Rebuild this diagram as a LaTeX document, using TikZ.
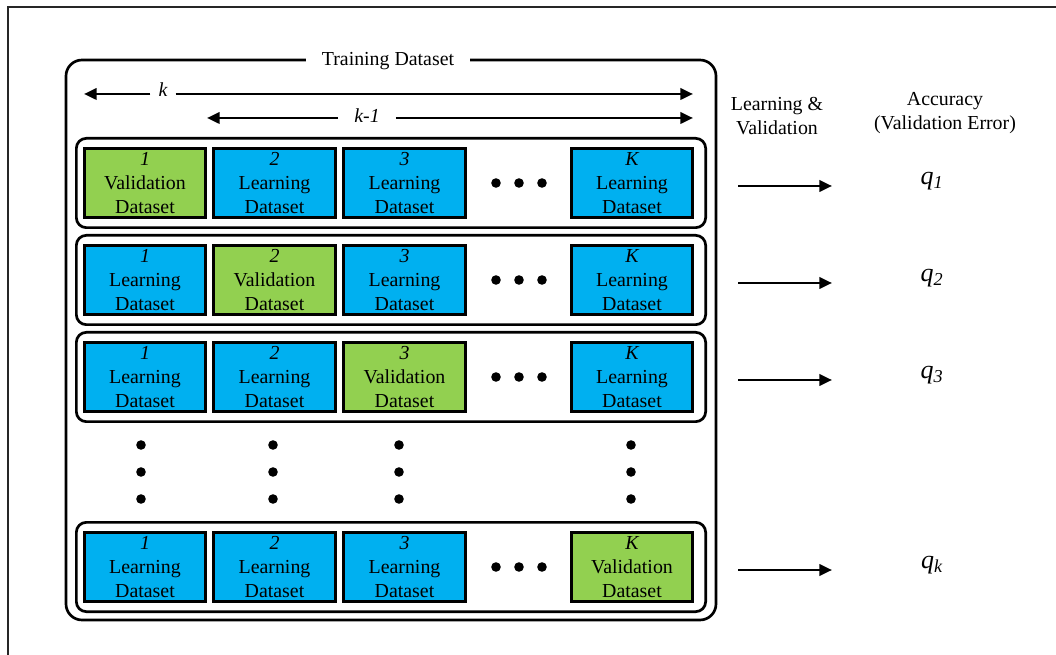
\documentclass[tikz,border=0pt]{standalone}
\usepackage{fontspec}
\setmainfont{Liberation Serif}
\usetikzlibrary{arrows.meta}
\definecolor{learnblue}{HTML}{00B0F0}
\definecolor{validgreen}{HTML}{92D050}
\begin{document}
\begin{tikzpicture}[x=0.75pt,y=-0.75pt,
  font=\fontsize{14.9}{17.8}\selectfont,
  fold/.style={draw=black, line width=2.3pt, minimum width=91pt, minimum height=52pt,
    inner sep=0pt, align=center},
  learn/.style={fold, fill=learnblue},
  valid/.style={fold, fill=validgreen},
  rowbox/.style={draw=black, line width=2pt, rounded corners=7.5pt,
    minimum width=472pt, minimum height=67pt, inner sep=0pt},
  outerbox/.style={draw=black, line width=2pt, rounded corners=12pt,
    minimum width=487.5pt, minimum height=420pt, inner sep=0pt},
  arr/.style={line width=2pt, -{Triangle[length=9.5pt,width=8.5pt]}},
  qlab/.style={font=\fontsize{19.5}{22}\selectfont\itshape},
  dot/.style={fill=black}]
\useasboundingbox (0,0) rectangle (1056,655);

% page frame
\draw[line width=0.9pt, black!85] (8,655) -- (8,7) -- (1056,7);

% training dataset frame and its title
\node[outerbox] (outer) at (391,340) {};
\node[fill=white, inner xsep=12pt, inner ysep=2pt] (title) at (388,61) {Training Dataset};

% k and k-1 spans
\coordinate (kL) at (84,94);
\coordinate (kR) at (693,94);
\node[inner xsep=6pt, inner ysep=1pt] (klab) at (163,90) {\itshape k};
\draw[arr] (kL -| klab.west) -- (kL);
\draw[arr] (kR -| klab.east) -- (kR);

\coordinate (kmL) at (207,118);
\coordinate (kmR) at (693,118);
\node[inner xsep=12pt, inner ysep=1pt] (kmlab) at (367,116) {\itshape k-1};
\draw[arr] (kmL -| kmlab.west) -- (kmL);
\draw[arr] (kmR -| kmlab.east) -- (kmR);

% column headings
\node[align=center] (lv) at (777,116) {Learning \&\\Validation};
\node[align=center] (acc) at (945,113) {Accuracy\\(Validation Error)};

% folds
\foreach \r/\y/\g/\q in {1/183/1/1, 2/280/2/2, 3/377/3/3, 4/567/4/k} {
  \node[rowbox] (row\r) at (391,\y) {};
  \foreach \c/\x/\lab in {1/145/1, 2/274.5/2, 3/404.5/3, 4/632/K} {
    \ifnum\c=\g
      \node[valid] (b\r\c) at (\x,\y) {{\itshape \lab}\\Validation\\Dataset};
    \else
      \node[learn] (b\r\c) at (\x,\y) {{\itshape \lab}\\Learning\\Dataset};
    \fi
  }
  \foreach \dx in {496,519,542} {
    \fill[dot] (\dx,\y) circle[radius=3.6pt];
  }
  \coordinate (as\r) at (738,\y+3);
  \coordinate (ae\r) at (832,\y+3);
  \draw[arr] (as\r) -- (ae\r);
  \node[qlab] (q\r) at (932,\y-2) {q\textsubscript{\q}};
}

% skipped folds
\foreach \x in {141,273,399,631} {
  \foreach \yy in {445,472,499} {
    \fill[dot] (\x,\yy) circle[radius=3.6pt];
  }
}
\end{tikzpicture}
\end{document}
